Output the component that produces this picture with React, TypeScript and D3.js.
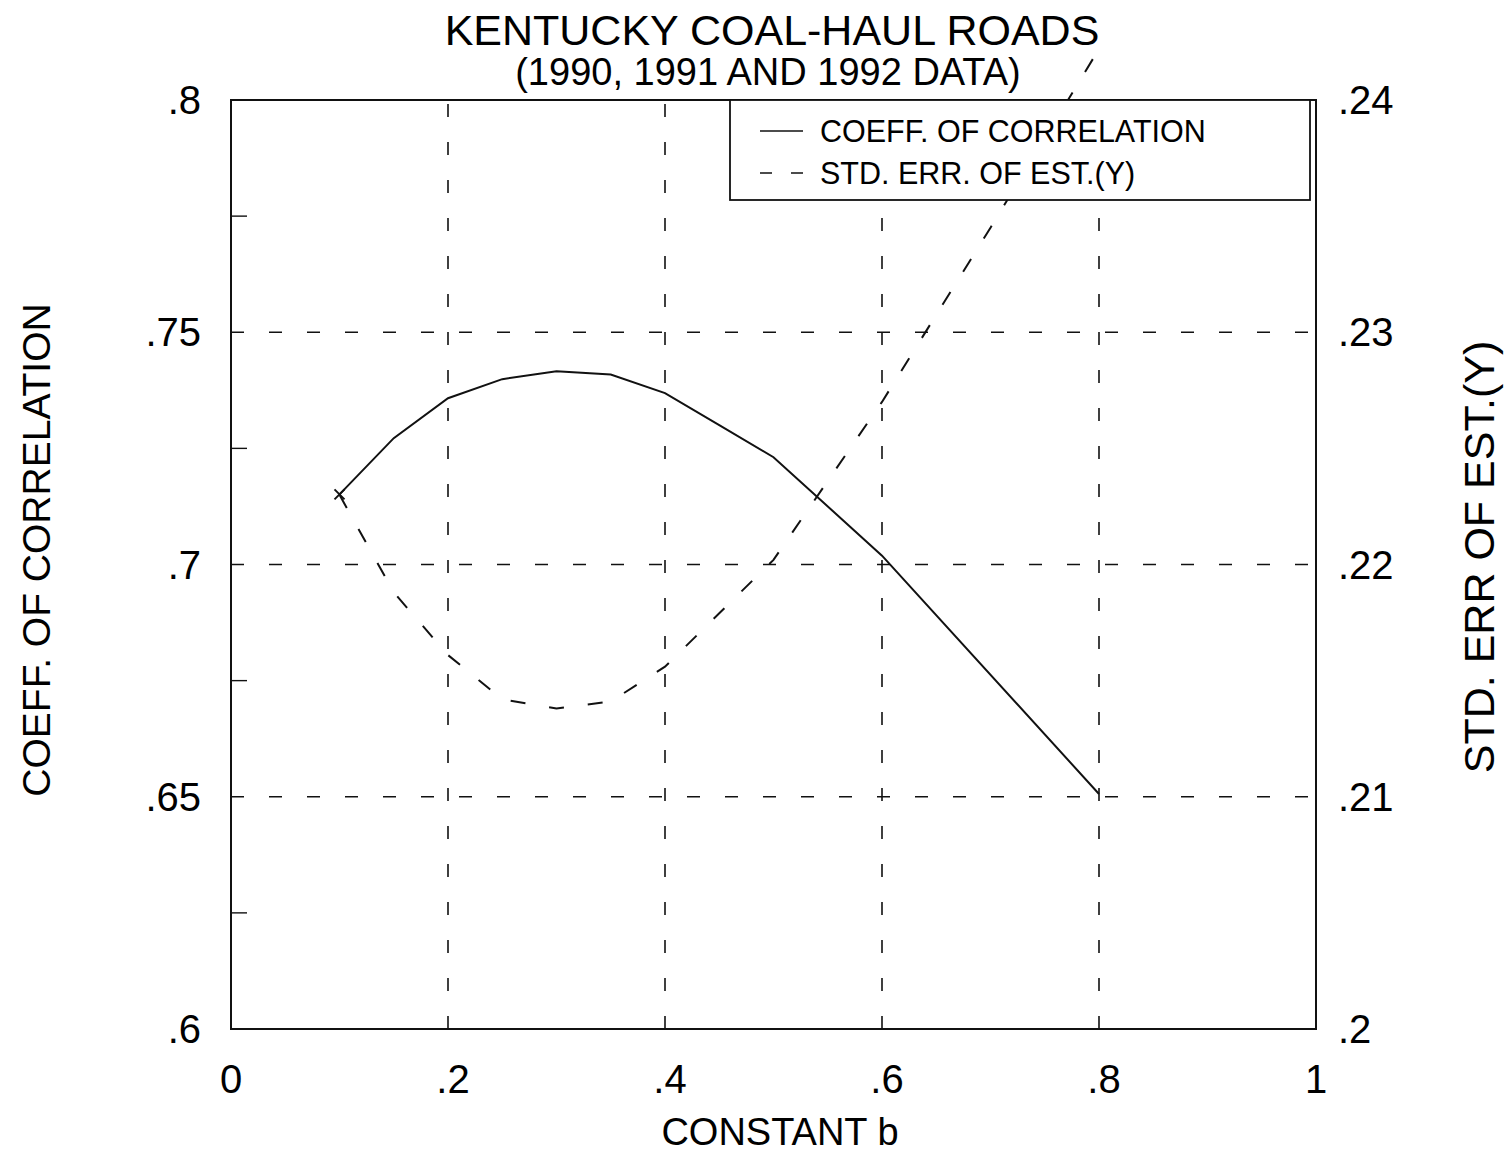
import React from 'react';
import * as d3 from 'd3';

// values
const bCoeff = [0.1, 0.15, 0.2, 0.25, 0.3, 0.35, 0.4, 0.45, 0.5, 0.6, 0.8];
const coeffCorr = [0.7151, 0.7272, 0.7358, 0.7399, 0.7416, 0.7409, 0.7369, 0.73, 0.7231, 0.7019, 0.6506];

const bErr = [0.1, 0.15, 0.2, 0.25, 0.3, 0.35, 0.4, 0.45, 0.5, 0.6, 0.7, 0.8];
const stdErr = [0.223, 0.2188, 0.2161, 0.2142, 0.2138, 0.2141, 0.2156, 0.2179, 0.2202, 0.227, 0.2345, 0.2422];

const xTicks = [0, 0.2, 0.4, 0.6, 0.8, 1];
const xGrid = [0.2, 0.4, 0.6, 0.8];
const leftTicks = [0.6, 0.65, 0.7, 0.75, 0.8];
const leftGrid = [0.65, 0.7, 0.75];
const leftMinor = [0.625, 0.675, 0.725, 0.775];
const rightTicks = [0.2, 0.21, 0.22, 0.23, 0.24];

const W = 1506;
const H = 1156;
const margin = { top: 100, right: 190, bottom: 127, left: 231 };
const FONT = '"Liberation Sans", Arial, Helvetica, sans-serif';

const fmt = (d: number) => (d === 0 ? '0' : d === 1 ? '1' : d3.format('.2~f')(d).replace(/^0/, ''));

const App: React.FC = () => {
  const x = d3.scaleLinear().domain([0, 1]).range([margin.left, W - margin.right]);
  const yL = d3.scaleLinear().domain([0.6, 0.8]).range([H - margin.bottom, margin.top]);
  const yR = d3.scaleLinear().domain([0.2, 0.24]).range([H - margin.bottom, margin.top]);

  const [x0, x1] = x.range();
  const [yb, yt] = yL.range();

  const coeffLine = d3
    .line<number>()
    .x((_, i) => x(bCoeff[i]))
    .y(d => yL(d));
  const errLine = d3
    .line<number>()
    .x((_, i) => x(bErr[i]))
    .y(d => yR(d));

  const sx = x(bCoeff[0]);
  const sy = yL(coeffCorr[0]);

  // legend box
  const lg = { x: 730, y: yt, w: x1 - 6 - 730, h: 100 };

  return (
    <svg
      width={W}
      height={H}
      style={{ position: 'absolute', left: 0, top: 0, background: '#fff' }}
      fontFamily={FONT}
    >
      <rect x={0} y={0} width={W} height={H} fill="#fff" />

      {/* title */}
      <text x={772} y={45} textAnchor="middle" fontSize={43}>
        KENTUCKY COAL-HAUL ROADS
      </text>
      <text x={768} y={85} textAnchor="middle" fontSize={38}>
        (1990, 1991 AND 1992 DATA)
      </text>

      {/* grid */}
      <g stroke="#111" strokeWidth={1.6} strokeDasharray="13,25">
        {leftGrid.map(v => (
          <line key={'h' + v} x1={x0} x2={x1} y1={yL(v)} y2={yL(v)} />
        ))}
        {xGrid.map(v => (
          <line key={'v' + v} x1={x(v)} x2={x(v)} y1={yb} y2={yt} />
        ))}
      </g>

      {/* minor ticks on the left axis */}
      <g stroke="#111" strokeWidth={1.4}>
        {leftMinor.map(v => (
          <line key={v} x1={x0} x2={x0 + 16} y1={yL(v)} y2={yL(v)} />
        ))}
      </g>

      {/* data */}
      <path d={coeffLine(coeffCorr) || ''} fill="none" stroke="#111" strokeWidth={2} />
      <path
        d={errLine(stdErr) || ''}
        fill="none"
        stroke="#111"
        strokeWidth={2}
        strokeDasharray="15,24"
      />
      <g stroke="#111" strokeWidth={2}>
        <line x1={sx - 5} x2={sx + 5} y1={sy - 5} y2={sy + 5} />
        <line x1={sx - 5} x2={sx + 5} y1={sy + 5} y2={sy - 5} />
      </g>

      {/* frame */}
      <rect x={x0} y={yt} width={x1 - x0} height={yb - yt} fill="none" stroke="#111" strokeWidth={2} />

      {/* legend */}
      <g>
        <rect x={lg.x} y={lg.y} width={lg.w} height={lg.h} fill="#fff" stroke="#111" strokeWidth={1.8} />
        <line x1={760} x2={803} y1={lg.y + 31} y2={lg.y + 31} stroke="#111" strokeWidth={1.5} />
        <line
          x1={760}
          x2={803}
          y1={lg.y + 73}
          y2={lg.y + 73}
          stroke="#111"
          strokeWidth={1.5}
          strokeDasharray="12,19"
        />
        <text x={820} y={lg.y + 42} fontSize={30.5}>
          COEFF. OF CORRELATION
        </text>
        <text x={820} y={lg.y + 84} fontSize={30.5}>
          STD. ERR. OF EST.(Y)
        </text>
      </g>

      {/* left tick labels */}
      <g fontSize={40} textAnchor="end">
        {leftTicks.map(v => (
          <text key={v} x={x0 - 30} y={yL(v) + 14}>
            {fmt(v)}
          </text>
        ))}
      </g>

      {/* right tick labels */}
      <g fontSize={40} textAnchor="start">
        {rightTicks.map(v => (
          <text key={v} x={x1 + 22} y={yR(v) + 14}>
            {fmt(v)}
          </text>
        ))}
      </g>

      {/* bottom tick labels */}
      <g fontSize={40} textAnchor="middle">
        {xTicks.map(v => (
          <text key={v} x={x(v) + (v === 0 || v === 1 ? 0 : 5)} y={1093}>
            {fmt(v)}
          </text>
        ))}
      </g>

      {/* axis titles */}
      <text x={780} y={1145} textAnchor="middle" fontSize={38}>
        CONSTANT b
      </text>
      <text transform="translate(50,550) rotate(-90)" textAnchor="middle" fontSize={39}>
        COEFF. OF CORRELATION
      </text>
      <text transform="translate(1494,557) rotate(-90)" textAnchor="middle" fontSize={43}>
        STD. ERR OF EST.(Y)
      </text>
    </svg>
  );
};

export default App;
